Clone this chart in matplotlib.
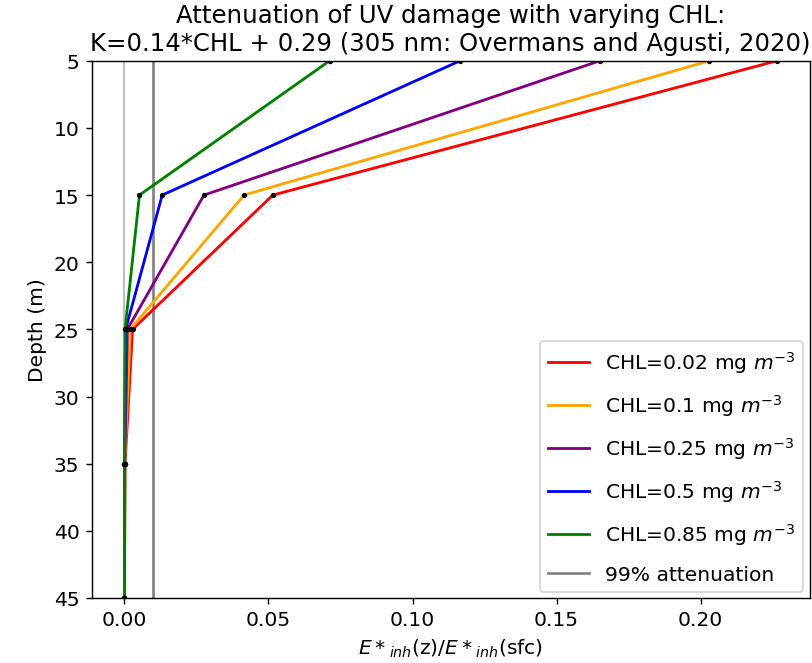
import matplotlib
matplotlib.use('Agg')
import matplotlib.pyplot as plt
import numpy as np

depth = [5, 15, 25, 35, 45]
chl = ['0.02', '0.1', '0.25', '0.5', '0.85']
colors = ['red', 'orange', 'purple', 'blue', 'green']

# relative damage E*inh(z)/E*inh(sfc)
ratio = [
    [0.2265, 0.0515, 0.0028, 0.0002, 0.0],
    [0.2030, 0.0415, 0.0020, 0.0001, 0.0],
    [0.1650, 0.0276, 0.0010, 0.0001, 0.0],
    [0.1165, 0.0131, 0.0004, 0.0, 0.0],
    [0.0712, 0.0052, 0.0002, 0.0, 0.0],
]
atten99 = 0.01

plt.rcParams['font.size'] = 11.5

fig = plt.figure(figsize=[6.4, 5.228], dpi=127)
ax = fig.add_subplot(1, 1, 1)

ax.axvline(0.0, color='silver', lw=1.2, zorder=1)
for i in range(len(chl)):
    ax.plot(ratio[i], depth, color=colors[i], lw=1.6,
            label='CHL=' + chl[i] + ' mg $m^{-3}$', zorder=2)
    ax.scatter(ratio[i], depth, color='black', s=4, zorder=3)
ax.axvline(atten99, color='gray', lw=1.5, label='99% attenuation', zorder=1)

ax.set_ylim(45, 5)
ax.set_ylabel('Depth (m)')
ax.set_xlabel(r'$E*_{inh}$(z)/$E*_{inh}$(sfc)')
ax.set_title('Attenuation of UV damage with varying CHL:\n'
             'K=0.14*CHL + 0.29 (305 nm: Overmans and Agusti, 2020)')
ax.legend(loc='lower right', labelspacing=0.85, borderaxespad=0.3)

plt.subplots_adjust(left=0.113, right=0.996, bottom=0.098, top=0.907)
plt.savefig('out.png')
